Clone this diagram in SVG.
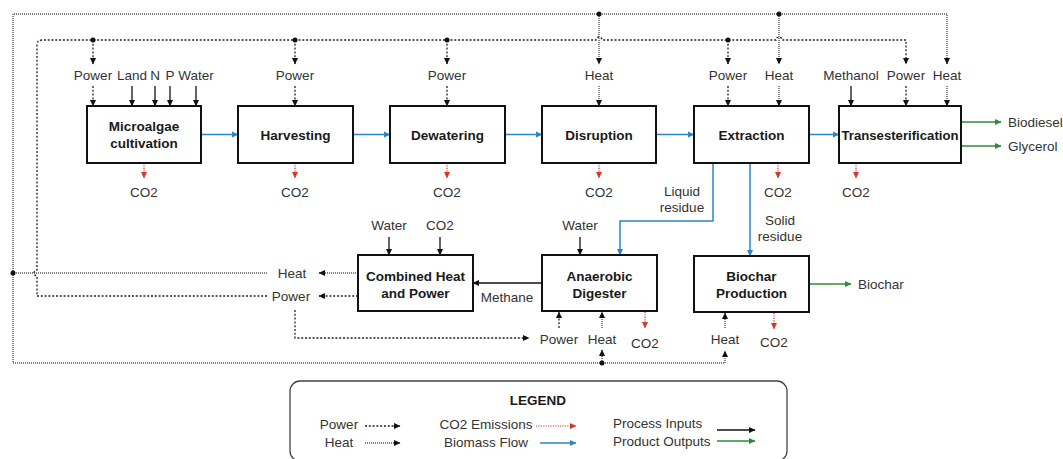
<svg xmlns="http://www.w3.org/2000/svg" width="1063" height="459" viewBox="0 0 1063 459">
<defs>
<style>
text{font-family:"Liberation Sans",Arial,sans-serif;font-size:13.5px;fill:#333;text-anchor:middle}
.bl{font-weight:bold;fill:#1a1a1a}
.st{text-anchor:start}
.box{fill:#fff;stroke:#111;stroke-width:2}
.power{fill:none;stroke:#222;stroke-width:1.3;stroke-dasharray:2 1.8}
.heat{fill:none;stroke:#555;stroke-width:1.4;stroke-dasharray:1 1}
.co2{fill:none;stroke:#d0392b;stroke-width:1.2;stroke-dasharray:1.2 1.2}
.bio{fill:none;stroke:#2a86c8;stroke-width:1.5}
.inp{fill:none;stroke:#111;stroke-width:1.3}
.out{fill:none;stroke:#2e8b3a;stroke-width:1.5}
.dot{fill:#111}
</style>
<marker id="ak" markerUnits="userSpaceOnUse" markerWidth="7" markerHeight="7" refX="6" refY="3.5" orient="auto"><path d="M0,0.5 L6.5,3.5 L0,6.5 z" fill="#111"/></marker>
<marker id="ar" markerUnits="userSpaceOnUse" markerWidth="7" markerHeight="7" refX="6" refY="3.5" orient="auto"><path d="M0,0.5 L6.5,3.5 L0,6.5 z" fill="#d0392b"/></marker>
<marker id="ab" markerUnits="userSpaceOnUse" markerWidth="7" markerHeight="7" refX="6" refY="3.5" orient="auto"><path d="M0,0.5 L6.5,3.5 L0,6.5 z" fill="#2a86c8"/></marker>
<marker id="ag" markerUnits="userSpaceOnUse" markerWidth="7" markerHeight="7" refX="6" refY="3.5" orient="auto"><path d="M0,0.5 L6.5,3.5 L0,6.5 z" fill="#2e8b3a"/></marker>
</defs>
<rect width="1063" height="459" fill="#fff"/>

<g id="connectors">
<!-- heat network -->
<path class="heat" d="M267,273 H13 V14 H947 V64" marker-end="url(#ak)"/>
<path class="heat" d="M13,273 V363 H725 V351" marker-end="url(#ak)"/>
<path class="heat" d="M599,14 V64" marker-end="url(#ak)"/>
<path class="heat" d="M779,14 V64" marker-end="url(#ak)"/>
<path class="heat" d="M599,86 V106" marker-end="url(#ak)"/>
<path class="heat" d="M779,86 V106" marker-end="url(#ak)"/>
<path class="heat" d="M947,86 V106" marker-end="url(#ak)"/>
<path class="heat" d="M602,363 V350" marker-end="url(#ak)"/>
<path class="heat" d="M602,328 V312" marker-end="url(#ak)"/>
<path class="heat" d="M725,328 V313" marker-end="url(#ak)"/>
<path class="heat" d="M358,273 H319" marker-end="url(#ak)"/>
<!-- power network -->
<path class="power" d="M267,296 H37 V276 A3,3 0 0 1 37,270 V45 Q37,40 42,40 H596 A3,3 0 0 1 602,40 H776 A3,3 0 0 1 782,40 H906 V64" marker-end="url(#ak)"/>
<path class="power" d="M93,40 V64" marker-end="url(#ak)"/>
<path class="power" d="M295,40 V64" marker-end="url(#ak)"/>
<path class="power" d="M447,40 V64" marker-end="url(#ak)"/>
<path class="power" d="M728,40 V64" marker-end="url(#ak)"/>
<path class="power" d="M93,86 V106" marker-end="url(#ak)"/>
<path class="power" d="M295,86 V106" marker-end="url(#ak)"/>
<path class="power" d="M447,86 V106" marker-end="url(#ak)"/>
<path class="power" d="M728,86 V106" marker-end="url(#ak)"/>
<path class="power" d="M906,86 V106" marker-end="url(#ak)"/>
<path class="power" d="M358,296 H319" marker-end="url(#ak)"/>
<path class="power" d="M295,310 V338 H529" marker-end="url(#ak)"/>
<path class="power" d="M559,328 V312" marker-end="url(#ak)"/>
<!-- junctions -->
<circle class="dot" cx="93" cy="40" r="2.5"/>
<circle class="dot" cx="295" cy="40" r="2.5"/>
<circle class="dot" cx="447" cy="40" r="2.5"/>
<circle class="dot" cx="728" cy="40" r="2.5"/>
<circle class="dot" cx="599" cy="14" r="2.5"/>
<circle class="dot" cx="779" cy="14" r="2.5"/>
<circle class="dot" cx="13" cy="273" r="2.5"/>
<circle class="dot" cx="602" cy="363" r="2.5"/>
<!-- CO2 emissions -->
<path class="co2" d="M144,163 V178" marker-end="url(#ar)"/>
<path class="co2" d="M295,163 V178" marker-end="url(#ar)"/>
<path class="co2" d="M447,163 V178" marker-end="url(#ar)"/>
<path class="co2" d="M599,163 V178" marker-end="url(#ar)"/>
<path class="co2" d="M778,163 V178" marker-end="url(#ar)"/>
<path class="co2" d="M856,163 V178" marker-end="url(#ar)"/>
<path class="co2" d="M645,312 V328" marker-end="url(#ar)"/>
<path class="co2" d="M774,313 V329" marker-end="url(#ar)"/>
<!-- biomass flow -->
<path class="bio" d="M201,134.5 H238" marker-end="url(#ab)"/>
<path class="bio" d="M353,134.5 H390" marker-end="url(#ab)"/>
<path class="bio" d="M505,134.5 H542" marker-end="url(#ab)"/>
<path class="bio" d="M656,134.5 H694" marker-end="url(#ab)"/>
<path class="bio" d="M809,134.5 H839" marker-end="url(#ab)"/>
<path class="bio" d="M713,164 V221 H620 V255" marker-end="url(#ab)"/>
<path class="bio" d="M750,164 V256" marker-end="url(#ab)"/>
<!-- process inputs -->
<path class="inp" d="M132,86 V106" marker-end="url(#ak)"/>
<path class="inp" d="M155,86 V106" marker-end="url(#ak)"/>
<path class="inp" d="M170,86 V106" marker-end="url(#ak)"/>
<path class="inp" d="M196,86 V106" marker-end="url(#ak)"/>
<path class="inp" d="M851,86 V106" marker-end="url(#ak)"/>
<path class="inp" d="M389,237 V255" marker-end="url(#ak)"/>
<path class="inp" d="M440,237 V255" marker-end="url(#ak)"/>
<path class="inp" d="M580,237 V255" marker-end="url(#ak)"/>
<path class="inp" d="M542,283 H473" marker-end="url(#ak)"/>
<!-- product outputs -->
<path class="out" d="M961,122 H1001" marker-end="url(#ag)"/>
<path class="out" d="M961,146 H1001" marker-end="url(#ag)"/>
<path class="out" d="M809,284 H851" marker-end="url(#ag)"/>
</g>

<g id="labels">
<text x="93" y="80">Power</text>
<text x="132" y="80">Land</text>
<text x="155" y="80">N</text>
<text x="170" y="80">P</text>
<text x="196" y="80">Water</text>
<text x="295" y="80">Power</text>
<text x="447" y="80">Power</text>
<text x="599" y="80">Heat</text>
<text x="728" y="80">Power</text>
<text x="779" y="80">Heat</text>
<text x="851" y="80">Methanol</text>
<text x="906" y="80">Power</text>
<text x="947" y="80">Heat</text>
<text x="144" y="197">CO2</text>
<text x="295" y="197">CO2</text>
<text x="447" y="197">CO2</text>
<text x="599" y="197">CO2</text>
<text x="778" y="197">CO2</text>
<text x="856" y="197">CO2</text>
<text x="682" y="196">Liquid</text>
<text x="682" y="212">residue</text>
<text x="780" y="225">Solid</text>
<text x="780" y="241">residue</text>
<text class="st" x="1008" y="127">Biodiesel</text>
<text class="st" x="1008" y="151">Glycerol</text>
<text x="389" y="230">Water</text>
<text x="440" y="230">CO2</text>
<text x="580" y="230">Water</text>
<text x="292" y="278">Heat</text>
<text x="291" y="301">Power</text>
<text x="507" y="302">Methane</text>
<text x="559" y="344">Power</text>
<text x="602" y="344">Heat</text>
<text x="645" y="348">CO2</text>
<text x="725" y="344">Heat</text>
<text x="774" y="347">CO2</text>
<text class="st" x="858" y="289">Biochar</text>
</g>

<g id="microalgae-cultivation">
<rect class="box" x="87" y="106" width="114" height="57"/>
<text class="bl" x="144" y="131">Microalgae</text>
<text class="bl" x="144" y="148">cultivation</text>
</g>
<g id="harvesting">
<rect class="box" x="238" y="106" width="115" height="57"/>
<text class="bl" x="295.5" y="139.5">Harvesting</text>
</g>
<g id="dewatering">
<rect class="box" x="390" y="106" width="115" height="57"/>
<text class="bl" x="447.5" y="139.5">Dewatering</text>
</g>
<g id="disruption">
<rect class="box" x="542" y="106" width="114" height="57"/>
<text class="bl" x="599" y="139.5">Disruption</text>
</g>
<g id="extraction">
<rect class="box" x="694" y="106" width="115" height="57"/>
<text class="bl" x="751.5" y="139.5">Extraction</text>
</g>
<g id="transesterification">
<rect class="box" x="839" y="106" width="122" height="57"/>
<text class="bl" x="900" y="139.5" textLength="117" lengthAdjust="spacingAndGlyphs">Transesterification</text>
</g>
<g id="combined-heat-and-power">
<rect class="box" x="358" y="255" width="115" height="56"/>
<text class="bl" x="415.5" y="281">Combined Heat</text>
<text class="bl" x="415.5" y="298">and Power</text>
</g>
<g id="anaerobic-digester">
<rect class="box" x="542" y="255" width="115" height="56"/>
<text class="bl" x="599.5" y="281">Anaerobic</text>
<text class="bl" x="599.5" y="298">Digester</text>
</g>
<g id="biochar-production">
<rect class="box" x="694" y="256" width="115" height="56"/>
<text class="bl" x="751.5" y="281">Biochar</text>
<text class="bl" x="751.5" y="298">Production</text>
</g>

<g id="legend">
<rect x="290" y="381" width="497" height="80" rx="10" fill="#fff" stroke="#444" stroke-width="1.3"/>
<text class="bl" x="538" y="405">LEGEND</text>
<text x="339" y="429">Power</text>
<text x="339" y="447">Heat</text>
<path class="power" d="M365,426 H400" marker-end="url(#ak)"/>
<path class="heat" d="M365,443 H400" marker-end="url(#ak)"/>
<text x="486" y="429">CO2 Emissions</text>
<text x="486" y="447">Biomass Flow</text>
<path class="co2" d="M536,426 H576" marker-end="url(#ar)"/>
<path class="bio" d="M540,443 H576" marker-end="url(#ab)"/>
<text class="st" x="613" y="428">Process Inputs</text>
<text class="st" x="613" y="446">Product Outputs</text>
<path class="inp" d="M717,430 H755" marker-end="url(#ak)"/>
<path class="out" d="M717,441 H755" marker-end="url(#ag)"/>
</g>
</svg>
